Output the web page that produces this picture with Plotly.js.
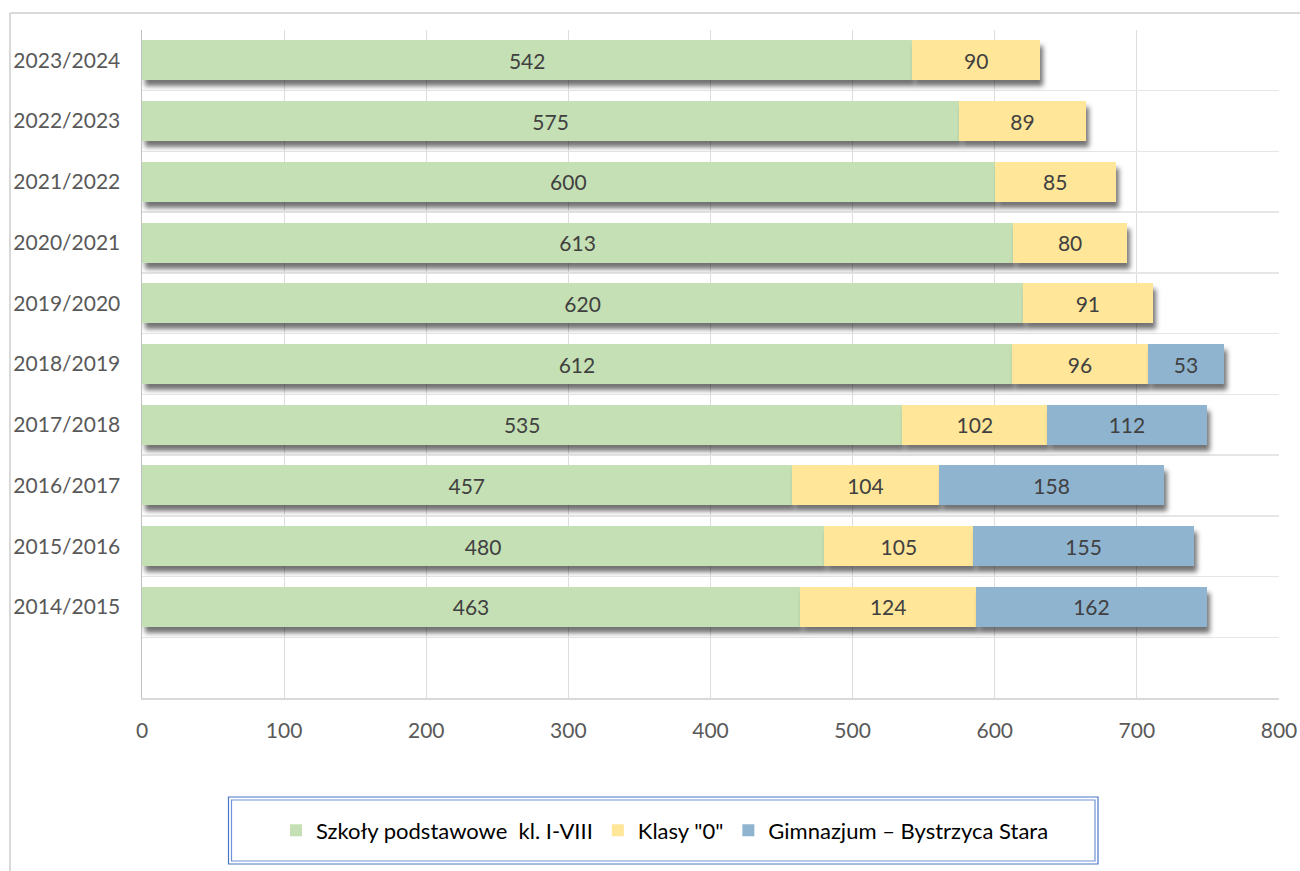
<!DOCTYPE html>
<html>
<head>
<meta charset="utf-8">
<script src="https://cdn.plot.ly/plotly-3.0.1.min.js"></script>
<style>
  html, body { margin: 0; padding: 0; background: #fff; }
  #chart { width: 1300px; height: 871px; }
</style>
</head>
<body>
<div id="chart"></div>
<script>
// ---- data ----
const years = ["2014/2015", "2015/2016", "2016/2017", "2017/2018", "2018/2019",
               "2019/2020", "2020/2021", "2021/2022", "2022/2023", "2023/2024"];
const szkolyPodstawowe = [463, 480, 457, 535, 612, 620, 613, 600, 575, 542];
const klasy0 = [124, 105, 104, 102, 96, 91, 80, 85, 89, 90];
const gimnazjum = [162, 155, 158, 112, 53, null, null, null, null, null];
const seriesNames = ["Szkoły podstawowe  kl. I-VIII", "Klasy \"0\"", "Gimnazjum – Bystrzyca Stara"];
const xTicks = [0, 100, 200, 300, 400, 500, 600, 700, 800];

// ---- layout helpers (pixel -> paper) ----
const W = 1300, Hh = 871;
const M = { l: 142, r: 21, t: 30, b: 173 };
const PW = W - M.l - M.r, PH = Hh - M.t - M.b;
const px = x => (x - M.l) / PW;
const py = y => (Hh - M.b - y) / PH;

const FONT = "Lato, 'Open Sans', sans-serif";
const colors = ["#c5e0b4", "#ffe699", "#8fb4d0"];
const vals = [szkolyPodstawowe, klasy0, gimnazjum];

const traces = vals.map((v, i) => ({
  type: "bar",
  orientation: "h",
  name: seriesNames[i],
  y: years,
  x: v,
  text: v.map(d => (d == null ? "" : String(d))),
  textposition: "inside",
  insidetextanchor: "middle",
  constraintext: "none",
  textfont: { family: FONT, size: 21, color: "#404040" },
  marker: { color: colors[i], line: { width: 0 } },
  hoverinfo: "skip"
}));

const rect = (x0, y0, x1, y1, color, w) => ({
  type: "rect", xref: "paper", yref: "paper",
  x0: px(x0), x1: px(x1), y0: py(y0), y1: py(y1),
  line: { color: color, width: w }, fillcolor: "rgba(0,0,0,0)", layer: "above"
});
const line = (x0, y0, x1, y1, color, w) => ({
  type: "line", xref: "paper", yref: "paper",
  x0: px(x0), x1: px(x1), y0: py(y0), y1: py(y1),
  line: { color: color, width: w }, layer: "below"
});

const layout = {
  width: W, height: Hh,
  margin: M,
  paper_bgcolor: "#ffffff",
  plot_bgcolor: "#ffffff",
  barmode: "stack",
  bargap: 0.34,
  showlegend: true,
  legend: {
    orientation: "h",
    x: px(665), xanchor: "center",
    y: py(830.5), yanchor: "middle",
    font: { family: FONT, size: 22, color: "#000000" },
    bgcolor: "rgba(0,0,0,0)",
    borderwidth: 0,
    itemwidth: 30,
    traceorder: "normal"
  },
  xaxis: {
    range: [0, 800],
    tickvals: xTicks,
    ticktext: xTicks.map(String),
    showgrid: true,
    gridcolor: "#dddddd",
    gridwidth: 1,
    zeroline: false,
    showline: true,
    linecolor: "#d9d9d9",
    linewidth: 1.5,
    ticks: "",
    ticklabelstandoff: 13,
    tickfont: { family: FONT, size: 21, color: "#595959" },
    fixedrange: true
  },
  yaxis: {
    type: "category",
    categoryorder: "array",
    categoryarray: years,
    range: [-1.5, years.length - 0.5],
    tickson: "boundaries",
    showgrid: true,
    gridcolor: "#e6e6e6",
    gridwidth: 1.5,
    zeroline: false,
    showline: true,
    linecolor: "#bfbfbf",
    linewidth: 1.5,
    ticks: "",
    ticklabelstandoff: 16,
    tickfont: { family: FONT, size: 21, color: "#595959" },
    fixedrange: true
  },
  shapes: [
    line(10, 13, 1310, 13, "#d9d9d9", 2),
    line(10, 13, 10, 880, "#d9d9d9", 2),
    rect(228.5, 797, 1098, 864, "#4a76c8", 1.2),
    rect(231.5, 800, 1095, 861, "#6f93d8", 1.2)
  ]
};

Plotly.newPlot("chart", traces, layout, { staticPlot: true, displayModeBar: false }).then(gd => {
  const svgNS = "http://www.w3.org/2000/svg";
  const svg = gd.querySelector(".main-svg");
  let defs = svg.querySelector("defs");
  if (!defs) { defs = document.createElementNS(svgNS, "defs"); svg.insertBefore(defs, svg.firstChild); }
  const f = document.createElementNS(svgNS, "filter");
  f.setAttribute("id", "barShadow");
  f.setAttribute("x", "-5%"); f.setAttribute("y", "-30%");
  f.setAttribute("width", "115%"); f.setAttribute("height", "190%");
  const ds = document.createElementNS(svgNS, "feDropShadow");
  ds.setAttribute("dx", "3"); ds.setAttribute("dy", "6");
  ds.setAttribute("stdDeviation", "2.6");
  ds.setAttribute("flood-color", "#000000");
  ds.setAttribute("flood-opacity", "0.55");
  f.appendChild(ds);
  defs.appendChild(f);
  gd.querySelectorAll(".barlayer .point path").forEach(p => p.setAttribute("filter", "url(#barShadow)"));
});
</script>
</body>
</html>
